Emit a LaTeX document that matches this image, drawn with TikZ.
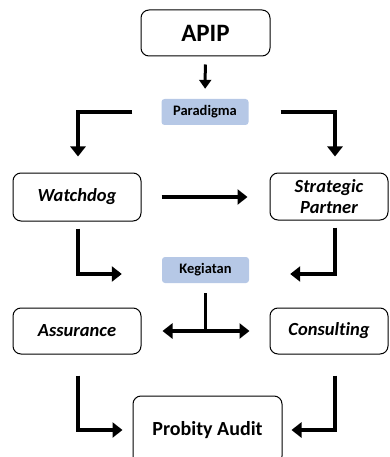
\documentclass[tikz,border=0pt]{standalone}
\usepackage{fontspec}
\setmainfont[Ligatures=NoCommon]{Carlito}
\usetikzlibrary{arrows.meta,calc}
\definecolor{lblue}{HTML}{B6C8E6}
\tikzset{
  box/.style={draw=black, line width=1pt, rounded corners=8pt, align=center, inner sep=0pt},
  lbl/.style={fill=lblue, rounded corners=3pt, inner sep=0pt, minimum width=87pt, minimum height=26pt, font=\fontsize{14.5}{16}\selectfont\bfseries},
  arr/.style={line width=3.5pt, -{Triangle[length=10pt,width=15pt]}},
  barr/.style={line width=3.5pt, {Triangle[length=10pt,width=15pt]}-{Triangle[length=10pt,width=15pt]}},
  ln/.style={line width=3.5pt},
  bi/.style={font=\fontsize{18.5}{21}\selectfont\bfseries\itshape}
}
\begin{document}
\begin{tikzpicture}[x=1pt,y=-1pt]
\useasboundingbox (0,0) rectangle (390,457);
\node[box, minimum width=129pt, minimum height=46pt, font=\fontsize{25}{28}\selectfont\bfseries] (apip) at (205.5,33) {APIP};
\node[lbl] (paradigma) at (205,112) {Paradigma};
\node[box, bi, minimum width=128pt, minimum height=48pt] (watchdog) at (77,197) {Watchdog};
\node[box, bi, minimum width=118pt, minimum height=47pt] (strategic) at (329,196.5) {Strategic\\Partner};
\node[lbl] (kegiatan) at (205.5,270) {Kegiatan};
\node[box, bi, minimum width=128pt, minimum height=46pt] (assurance) at (77,331) {Assurance};
\node[box, bi, minimum width=118pt, minimum height=46pt] (consulting) at (329,331) {Consulting};
\node[box, minimum width=149pt, minimum height=68pt, font=\fontsize{20}{24}\selectfont\bfseries] (probity) at (207.5,430) {Probity Audit};

\draw[arr, line width=3pt, -{Triangle[length=9pt,width=12pt]}, shorten <=8pt, shorten >=10pt] (apip) -- (paradigma);
\draw[arr, shorten <=29pt, shorten >=16pt] (paradigma.west) -| ([xshift=1pt]watchdog.north);
\draw[arr, shorten <=32pt, shorten >=16pt] (paradigma.east) -| ([xshift=6pt]strategic.north);
\draw[arr, shorten <=20pt, shorten >=22pt] (watchdog.east) -- (strategic.west |- watchdog.east);
\draw[arr, shorten <=7pt, shorten >=40pt] ([xshift=1pt]watchdog.south) |- ([yshift=-4pt]kegiatan.west);
\draw[arr, shorten <=7pt, shorten >=41pt] ([xshift=6pt]strategic.south) |- ([yshift=-4pt]kegiatan.east);
\coordinate (t) at (kegiatan.south |- assurance.east);
\draw[ln, shorten <=10pt] (kegiatan.south) -- ([yshift=1.75pt]t);
\draw[barr, shorten <=21pt, shorten >=20pt] (assurance.east) -- (consulting.west);
\draw[arr, shorten <=21pt, shorten >=10pt] ([xshift=1pt]assurance.south) |- (probity.west);
\draw[arr, shorten <=21pt, shorten >=9pt] ([xshift=6pt]consulting.south) |- (probity.east);
\end{tikzpicture}
\end{document}
